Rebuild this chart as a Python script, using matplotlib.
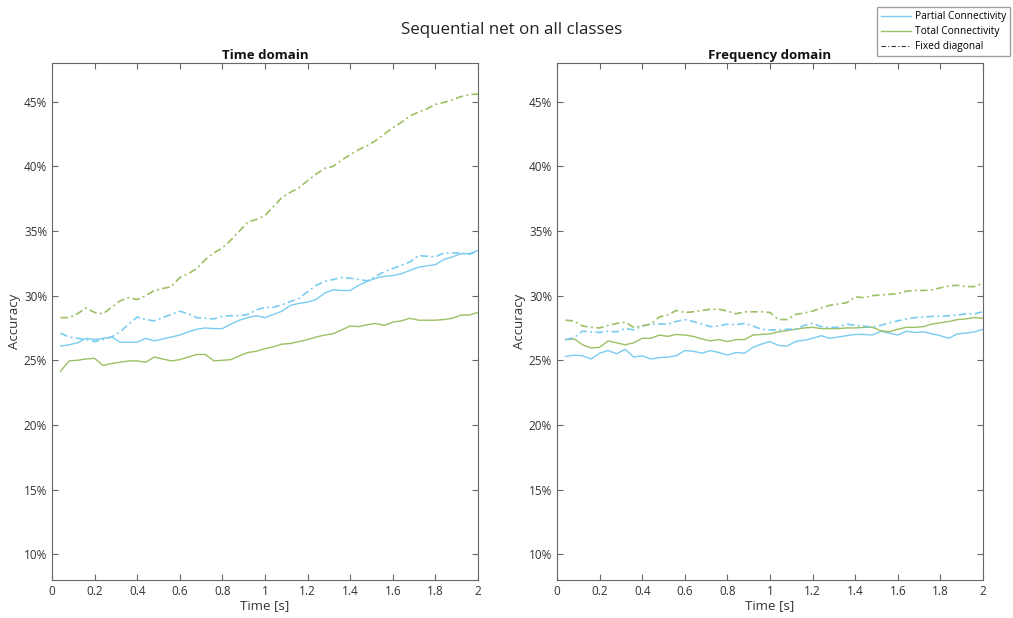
import matplotlib
matplotlib.use("Agg")
import matplotlib.pyplot as plt
import matplotlib.lines as lines
from matplotlib.ticker import FuncFormatter

plt.rcParams['font.family'] = ['Open Sans', 'DejaVu Sans']

t = [round(0.04 * k, 2) for k in range(1, 51)]

# Time domain
td_partial = [26.1, 26.2, 26.35, 26.7, 26.6, 26.7, 26.8, 26.4, 26.4, 26.4,
              26.7, 26.5, 26.65, 26.8, 26.95, 27.2, 27.4, 27.5, 27.45, 27.45,
              27.8, 28.1, 28.3, 28.45, 28.3, 28.55, 28.8, 29.25, 29.4, 29.5,
              29.7, 30.2, 30.45, 30.4, 30.4, 30.8, 31.1, 31.35, 31.5, 31.55,
              31.7, 31.95, 32.2, 32.3, 32.4, 32.8, 33.0, 33.25, 33.25, 33.5]
td_total = [24.15, 24.95, 25.0, 25.1, 25.15, 24.6, 24.75, 24.85, 24.95, 24.95,
            24.85, 25.25, 25.1, 24.95, 25.05, 25.25, 25.45, 25.45, 24.95, 25.0,
            25.05, 25.35, 25.6, 25.7, 25.9, 26.05, 26.25, 26.3, 26.45, 26.6,
            26.8, 26.95, 27.05, 27.35, 27.65, 27.6, 27.75, 27.85, 27.7, 27.95,
            28.05, 28.25, 28.1, 28.1, 28.1, 28.15, 28.25, 28.5, 28.5, 28.7]
td_partial_fd = [27.1, 26.8, 26.7, 26.6, 26.45, 26.6, 26.8, 27.2, 27.8, 28.35,
                 28.15, 28.05, 28.3, 28.55, 28.8, 28.6, 28.3, 28.25, 28.2, 28.4,
                 28.45, 28.45, 28.55, 28.9, 29.1, 29.1, 29.3, 29.55, 29.8, 30.3,
                 30.8, 31.1, 31.25, 31.4, 31.35, 31.25, 31.15, 31.5, 31.85, 32.1,
                 32.35, 32.6, 33.1, 33.05, 33.0, 33.3, 33.3, 33.3, 33.2, 33.45]
td_total_fd = [28.3, 28.3, 28.6, 29.05, 28.7, 28.6, 29.1, 29.6, 29.85, 29.7,
               30.0, 30.4, 30.55, 30.7, 31.4, 31.7, 32.1, 32.8, 33.3, 33.7,
               34.3, 35.0, 35.7, 35.9, 36.2, 36.9, 37.6, 38.0, 38.35, 38.9,
               39.4, 39.85, 40.0, 40.5, 40.9, 41.3, 41.6, 42.0, 42.5, 43.0,
               43.4, 43.9, 44.2, 44.45, 44.8, 44.95, 45.15, 45.4, 45.55, 45.6]

# Frequency domain
fd_partial = [25.3, 25.4, 25.35, 25.1, 25.55, 25.75, 25.5, 25.85, 25.25, 25.35,
              25.1, 25.2, 25.25, 25.35, 25.75, 25.7, 25.55, 25.75, 25.6, 25.4,
              25.6, 25.55, 26.0, 26.25, 26.45, 26.15, 26.1, 26.45, 26.55, 26.7,
              26.9, 26.7, 26.8, 26.9, 27.0, 27.0, 26.95, 27.25, 27.1, 26.95,
              27.25, 27.15, 27.2, 27.05, 26.9, 26.7, 27.05, 27.1, 27.2, 27.4]
fd_total = [26.6, 26.65, 26.2, 25.95, 26.0, 26.5, 26.35, 26.2, 26.35, 26.7,
            26.7, 26.95, 26.85, 27.0, 26.95, 26.85, 26.65, 26.5, 26.6, 26.45,
            26.6, 26.6, 26.95, 27.0, 27.05, 27.2, 27.3, 27.4, 27.5, 27.55,
            27.45, 27.45, 27.45, 27.5, 27.5, 27.55, 27.55, 27.3, 27.2, 27.4,
            27.55, 27.55, 27.6, 27.8, 27.9, 28.0, 28.15, 28.2, 28.3, 28.25]
fd_partial_fd = [26.6, 26.75, 27.25, 27.2, 27.15, 27.25, 27.2, 27.45, 27.35, 27.65,
                 27.8, 27.8, 27.8, 28.0, 28.15, 28.0, 27.8, 27.6, 27.65, 27.8,
                 27.75, 27.85, 27.65, 27.4, 27.35, 27.35, 27.4, 27.4, 27.7, 27.85,
                 27.6, 27.55, 27.55, 27.8, 27.7, 27.65, 27.55, 27.7, 27.9, 28.05,
                 28.2, 28.3, 28.35, 28.4, 28.4, 28.45, 28.5, 28.6, 28.6, 28.75]
fd_total_fd = [28.1, 28.05, 27.65, 27.55, 27.5, 27.7, 27.85, 27.95, 27.55, 27.65,
               27.8, 28.35, 28.5, 28.85, 28.7, 28.75, 28.85, 28.95, 28.95, 28.8,
               28.6, 28.75, 28.75, 28.75, 28.7, 28.15, 28.15, 28.55, 28.65, 28.8,
               29.05, 29.25, 29.35, 29.45, 29.9, 29.85, 30.0, 30.05, 30.1, 30.15,
               30.35, 30.4, 30.4, 30.45, 30.6, 30.75, 30.8, 30.7, 30.7, 30.95]

panels = [('Time domain', td_partial, td_total, td_partial_fd, td_total_fd),
          ('Frequency domain', fd_partial, fd_total, fd_partial_fd, fd_total_fd)]

blue = '#7accf0'
green = '#9cc063'
axcol = '#666666'

fig = plt.figure(figsize=(10.13, 6.18), dpi=100)
fig.text(0.505, 0.952, 'Sequential net on all classes', ha='center', va='center',
         fontsize=12.2, color='#222222')

positions = [[52 / 1013, 38 / 618, 426 / 1013, 517 / 618],
             [557 / 1013, 38 / 618, 426 / 1013, 517 / 618]]

for pos, (name, p, tot, pfd, tfd) in zip(positions, panels):
    ax = fig.add_axes(pos)
    ax.plot(t, p, color=blue, lw=1.0)
    ax.plot(t, tot, color=green, lw=1.0)
    ax.plot(t, pfd, color=blue, lw=1.2, linestyle=(0, (4.5, 2, 1.2, 2)))
    ax.plot(t, tfd, color=green, lw=1.2, linestyle=(0, (4.5, 2, 1.2, 2)))
    ax.set_xlim(0, 2)
    ax.set_ylim(8, 48)
    ax.set_xticks([0.2 * i for i in range(11)])
    ax.set_yticks(range(10, 50, 5))
    ax.xaxis.set_major_formatter(FuncFormatter(lambda v, _: ('%g' % round(v, 1))))
    ax.yaxis.set_major_formatter(FuncFormatter(lambda v, _: '%d%%' % v))
    ax.tick_params(direction='in', length=4, width=0.8, top=True, right=True,
                   labelsize=8.5, color=axcol, labelcolor='#333333')
    for s in ax.spines.values():
        s.set_color(axcol)
        s.set_linewidth(0.8)
    ax.set_title(name, fontsize=9.5, fontweight='bold', pad=3, color='#111111')
    ax.set_xlabel('Time [s]', fontsize=9.5, labelpad=1, color='#333333')
    ax.set_ylabel('Accuracy', fontsize=9.5, labelpad=2, color='#333333')

handles = [lines.Line2D([0], [0], color=blue, lw=1.0),
           lines.Line2D([0], [0], color=green, lw=1.0),
           lines.Line2D([0], [0], color='#333333', lw=0.8, linestyle=(0, (4, 2, 1, 2)))]
fig.legend(handles, ['Partial Connectivity', 'Total Connectivity', 'Fixed diagonal'],
           loc='upper right', bbox_to_anchor=(1010 / 1013, 1 - 7 / 618), fontsize=7.3,
           frameon=True, fancybox=False, edgecolor='#888888', handlelength=2.9,
           borderpad=0.4, labelspacing=0.4, handletextpad=0.4, borderaxespad=0)

fig.savefig('out.png', dpi=100)
